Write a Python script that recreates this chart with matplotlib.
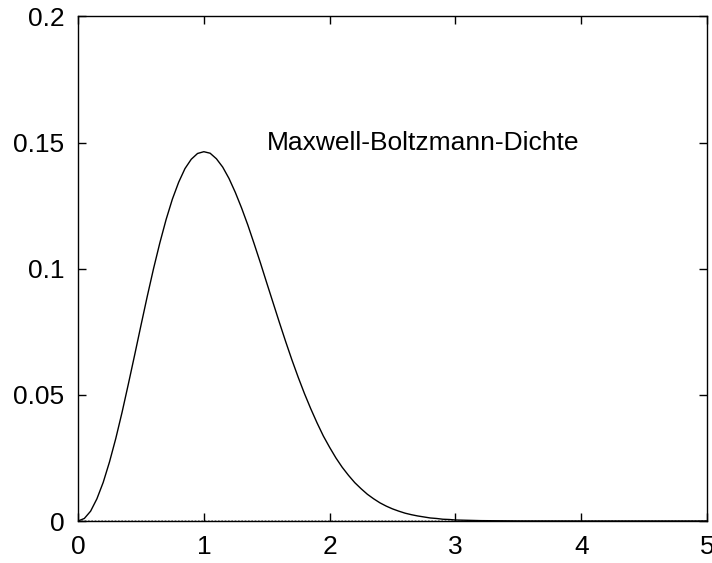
import matplotlib
matplotlib.use("Agg")
import matplotlib.pyplot as plt

# Werte
x_werte = [0.0, 0.05, 0.1, 0.15, 0.2, 0.25, 0.3, 0.35, 0.4, 0.45, 0.5,
           0.55, 0.6, 0.65, 0.7, 0.75, 0.8, 0.85, 0.9, 0.95, 1.0,
           1.05, 1.1, 1.15, 1.2, 1.25, 1.3, 1.35, 1.4, 1.45, 1.5,
           1.55, 1.6, 1.65, 1.7, 1.75, 1.8, 1.85, 1.9, 1.95, 2.0,
           2.05, 2.1, 2.15, 2.2, 2.25, 2.3, 2.35, 2.4, 2.45, 2.5,
           2.55, 2.6, 2.65, 2.7, 2.75, 2.8, 2.85, 2.9, 2.95, 3.0,
           3.2, 3.5, 4.0, 4.5, 5.0]
dichte = [0.0, 0.0010, 0.0039, 0.0088, 0.0153, 0.0234, 0.0327, 0.0431, 0.0543, 0.0658, 0.0775,
          0.0890, 0.1000, 0.1102, 0.1195, 0.1276, 0.1343, 0.1397, 0.1434, 0.1457, 0.1464,
          0.1458, 0.1436, 0.1403, 0.1358, 0.1303, 0.1241, 0.1173, 0.1099, 0.1023, 0.0944,
          0.0866, 0.0788, 0.0712, 0.0639, 0.0570, 0.0505, 0.0445, 0.0389, 0.0337, 0.0292,
          0.0250, 0.0213, 0.0181, 0.0152, 0.0128, 0.0106, 0.0088, 0.0072, 0.0059, 0.0048,
          0.0039, 0.0031, 0.0025, 0.0020, 0.0016, 0.0012, 0.0010, 0.0007, 0.0006, 0.0004,
          0.00015, 0.00002, 0.0, 0.0, 0.0]
x_ticks = [0, 1, 2, 3, 4, 5]
y_ticks = [0, 0.05, 0.1, 0.15, 0.2]
y_labels = ["0", "0.05", "0.1", "0.15", "0.2"]
beschriftung = "Maxwell-Boltzmann-Dichte"

plt.rcParams['font.family'] = ['Liberation Sans', 'DejaVu Sans']

fig = plt.figure(figsize=(7.12, 5.63), dpi=100)
ax = fig.add_axes([0.1096, 0.0746, 0.8834, 0.8961])

ax.axhline(0, color='#888888', linestyle=(0, (1, 1)), linewidth=1.2, zorder=1)
ax.plot(x_werte, dichte, color='black', linewidth=1.0, zorder=2)

ax.set_xlim(0, 5)
ax.set_ylim(0, 0.2)
ax.set_xticks(x_ticks)
ax.set_yticks(y_ticks)
ax.set_yticklabels(y_labels)
ax.tick_params(direction='in', length=6, width=1, top=True, right=True,
               labelsize=19, pad=10)
for s in ax.spines.values():
    s.set_linewidth(1.0)

ax.text(1.5, 0.15, beschriftung, fontsize=19, ha='left', va='center')

fig.savefig("out.png", dpi=100)
